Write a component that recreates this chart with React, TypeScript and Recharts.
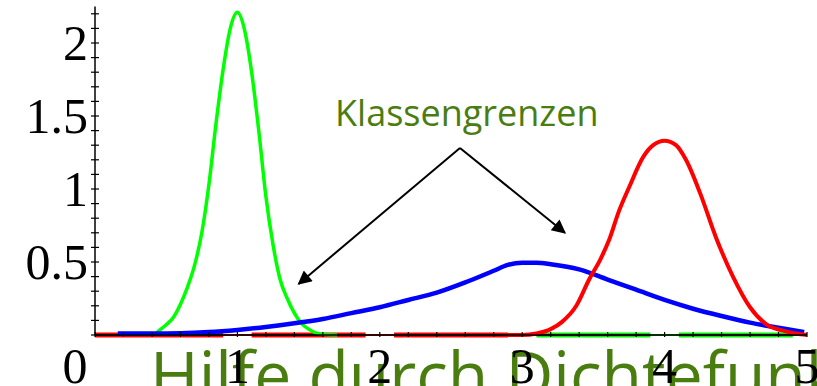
import { LineChart, Line, XAxis, YAxis, ReferenceLine } from 'recharts'

// x positions and values
const greenX = [0.42, 0.45, 0.5, 0.55, 0.6, 0.65, 0.7, 0.75, 0.8, 0.85, 0.9, 0.95, 1.0, 1.05, 1.1, 1.15, 1.2, 1.25, 1.3, 1.35, 1.4, 1.45, 1.5, 1.55, 1.6, 1.7]
const greenY = [0.0, 0.03, 0.07, 0.12, 0.21, 0.33, 0.48, 0.7, 1.03, 1.45, 1.82, 2.1, 2.21, 2.09, 1.8, 1.4, 0.95, 0.62, 0.38, 0.25, 0.15, 0.08, 0.04, 0.015, 0.005, 0.0]

const blueX = [0.16, 0.4, 0.6, 0.8, 1.0, 1.2, 1.4, 1.6, 1.8, 2.0, 2.2, 2.4, 2.6, 2.8, 2.9, 3.0, 3.1, 3.2, 3.4, 3.6, 3.8, 4.0, 4.2, 4.4, 4.6, 4.8, 4.98]
const blueY = [0.01, 0.01, 0.012, 0.02, 0.035, 0.055, 0.08, 0.11, 0.15, 0.19, 0.24, 0.29, 0.36, 0.44, 0.48, 0.495, 0.495, 0.485, 0.45, 0.38, 0.31, 0.24, 0.18, 0.13, 0.085, 0.05, 0.02]

const redX = [2.9, 3.0, 3.1, 3.2, 3.28, 3.38, 3.47, 3.55, 3.61, 3.68, 3.75, 3.85, 3.92, 4.0, 4.08, 4.15, 4.25, 4.36, 4.48, 4.6, 4.72, 4.83, 4.92, 5.0]
const redY = [0.0, 0.0, 0.01, 0.04, 0.09, 0.2, 0.38, 0.52, 0.65, 0.85, 1.01, 1.22, 1.3, 1.33, 1.3, 1.2, 0.97, 0.67, 0.4, 0.19, 0.07, 0.03, 0.01, 0.0]

// class intervals marked on the x axis
const segStart = [0, 1.1, 2.1, 3.1, 4.1]
const segEnd = [0.9, 1.9, 2.9, 3.9, 4.9]
const segColor = ['#ff0000', '#ff0000', '#ff0000', '#00ee00', '#00ee00']
const gapStart = [0.9, 1.9, 2.9, 3.9]
const gapEnd = [1.1, 2.1, 3.1, 4.1]
const gapColor = ['#ff0000', '#ff0000', '#ff0000', '#00ee00']

const xTicks = [0, 0.2, 0.4, 0.6, 0.8, 1, 1.2, 1.4, 1.6, 1.8, 2, 2.2, 2.4, 2.6, 2.8, 3, 3.2, 3.4, 3.6, 3.8, 4, 4.2, 4.4, 4.6, 4.8, 5]
const xLabels = [0, 1, 2, 3, 4, 5]
const yTicks = [0, 0.1, 0.2, 0.3, 0.4, 0.5, 0.6, 0.7, 0.8, 0.9, 1, 1.1, 1.2, 1.3, 1.4, 1.5, 1.6, 1.7, 1.8, 1.9, 2, 2.1, 2.2]
const yLabels = [0.5, 1, 1.5, 2]

const greenData = greenX.map((x, i) => ({ x, y: greenY[i] }))
const blueData = blueX.map((x, i) => ({ x, y: blueY[i] }))
const redData = redX.map((x, i) => ({ x, y: redY[i] }))
const axisData = [{ x: 0, y: 0 }, { x: 5, y: 0 }]

const serif = '"Liberation Serif", "DejaVu Serif", serif'
const textGreen = '#4a7d10'

function XTick({ x, y, payload }: any) {
  const v = payload.value
  const show = xLabels.includes(v)
  return (
    <g>
      <line x1={x} x2={x} y1={y - 3} y2={y + 2} stroke="#000" strokeWidth={1.2} />
      {show && (
        <text x={v === 0 ? x - 20 : x} y={y + 48} textAnchor="middle" fontFamily={serif} fontSize={50} fill="#000">
          {v}
        </text>
      )}
    </g>
  )
}

function YTick({ x, y, payload }: any) {
  const v = payload.value
  const show = yLabels.includes(v)
  return (
    <g>
      <line x1={x - 4} x2={x + 4} y1={y} y2={y} stroke="#000" strokeWidth={1.2} />
      {show && (
        <text x={x - 7} y={y + 17} textAnchor="end" fontFamily={serif} fontSize={50} fill="#000">
          {v}
        </text>
      )}
    </g>
  )
}

export default function App() {
  return (
    <div style={{ position: 'absolute', left: 0, top: 0, width: 817, height: 386, background: '#fff', overflow: 'hidden' }}>
      <LineChart width={817} height={386} margin={{ top: 6.5, right: 10, bottom: 0, left: 0 }}>
        <defs>
          <marker id="arrowHead" viewBox="0 0 10 10" refX="9" refY="5" markerWidth="8" markerHeight="7" orient="auto">
            <path d="M0,0 L10,5 L0,10 z" fill="#000" />
          </marker>
        </defs>

        <XAxis
          type="number"
          dataKey="x"
          domain={[0, 5]}
          ticks={xTicks}
          interval={0}
          height={51}
          tickSize={0}
          tickMargin={0}
          tickLine={false}
          axisLine={{ stroke: '#000', strokeWidth: 1.5 }}
          tick={<XTick />}
        />
        <YAxis
          type="number"
          domain={[0, 2.25]}
          ticks={yTicks}
          interval={0}
          width={95}
          tickSize={0}
          tickMargin={0}
          tickLine={false}
          axisLine={{ stroke: '#000', strokeWidth: 1.5 }}
          tick={<YTick />}
        />

        {segStart.map((s, i) => (
          <Line
            key={`seg${i}`}
            data={[{ x: s, y: 0 }, { x: segEnd[i], y: 0 }]}
            dataKey="y"
            stroke={segColor[i]}
            strokeWidth={5}
            dot={false}
            isAnimationActive={false}
          />
        ))}
        <Line data={axisData} dataKey="y" stroke="#000" strokeWidth={1.5} dot={false} isAnimationActive={false} />
        {gapStart.map((s, i) => (
          <Line
            key={`gap${i}`}
            data={[{ x: s, y: 0 }, { x: gapEnd[i], y: 0 }]}
            dataKey="y"
            stroke={gapColor[i]}
            strokeWidth={1.5}
            dot={false}
            isAnimationActive={false}
          />
        ))}

        <Line type="monotone" data={greenData} dataKey="y" stroke="#00ff00" strokeWidth={3.5} dot={false} isAnimationActive={false} />
        <Line type="monotone" data={blueData} dataKey="y" stroke="#0000ff" strokeWidth={4.5} dot={false} isAnimationActive={false} />
        <Line type="monotone" data={redData} dataKey="y" stroke="#ff0000" strokeWidth={4} dot={false} isAnimationActive={false} />

        <ReferenceLine
          segment={[{ x: 2.563, y: 1.281 }, { x: 1.43, y: 0.35 }]}
          stroke="#000"
          strokeWidth={2}
          markerEnd="url(#arrowHead)"
        />
        <ReferenceLine
          segment={[{ x: 2.563, y: 1.281 }, { x: 3.3, y: 0.7 }]}
          stroke="#000"
          strokeWidth={2}
          markerEnd="url(#arrowHead)"
        />

        <text x={335} y={126} fontFamily='"Open Sans", sans-serif' fontSize={36} fill={textGreen}>
          Klassengrenzen
        </text>
        <text x={150} y={399} fontFamily='"Open Sans", sans-serif' fontSize={66} fill={textGreen}>
          Hilfe durch Dichtefunktion
        </text>
      </LineChart>
    </div>
  )
}
